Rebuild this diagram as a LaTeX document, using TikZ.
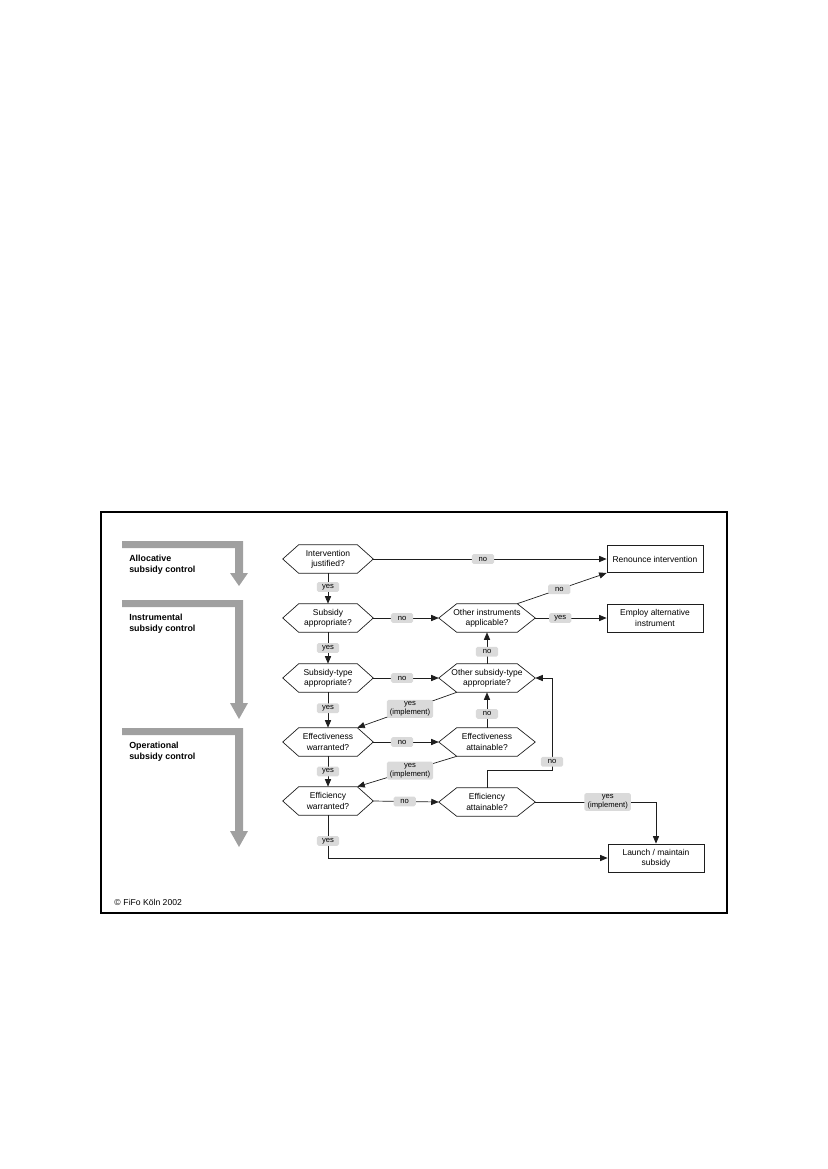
\documentclass[tikz,border=0pt]{standalone}
\usepackage{fontspec}
\setmainfont{Liberation Sans}
\usetikzlibrary{arrows.meta,calc}
\definecolor{labgray}{RGB}{218,218,218}
\definecolor{barcol}{RGB}{160,160,160}
\definecolor{linecol}{RGB}{30,30,30}
\newcommand\hexdraw[2]{%
  \draw[hexline] (#1.west) -- ($(#1.north west)+(#2,0)$) -- ($(#1.north east)+(-#2,0)$) -- (#1.east) -- ($(#1.south east)+(-#2,0)$) -- ($(#1.south west)+(#2,0)$) -- cycle;}
\begin{document}
\begin{tikzpicture}[x=0.72pt,y=-0.72pt,
  txt/.style={font=\fontsize{6.1}{7.4}\selectfont, align=center},
  hexl/.style={txt, rectangle, minimum width=64.8pt, minimum height=20.2pt, inner sep=0pt},
  hexr/.style={hexl, minimum width=69.1pt},
  hexline/.style={draw=linecol, line width=0.5pt},
  outbox/.style={txt, draw=linecol, line width=0.55pt, minimum width=69.1pt, minimum height=19.6pt, inner sep=0pt},
  lab/.style={fill=labgray, rounded corners=1.2pt, inner xsep=2.2pt, inner ysep=1.2pt, minimum width=16pt, minimum height=7pt, align=center, font=\fontsize{5.5}{6.4}\selectfont},
  ln/.style={draw=linecol, line width=0.5pt},
  arr/.style={ln, -{Triangle[length=5.4pt,width=4.4pt]}},
  gbar/.style={fill=barcol, draw=none},
  side/.style={font=\bfseries\fontsize{6.4}{7.8}\selectfont, align=left, anchor=west, inner sep=0pt}
]
\useasboundingbox (0,0) rectangle (827,1169);
% frame
\draw[line width=0.8pt] (101,512) rectangle (727,913);

% gray L arrows
\fill[gbar] (122,541) -- (243,541) -- (243,573) -- (248,573) -- (239,586) -- (230,573) -- (235,573) -- (235,548) -- (122,548) -- cycle;
\fill[gbar] (122,600) -- (243,600) -- (243,703) -- (248,703) -- (239,719) -- (230,703) -- (235,703) -- (235,607) -- (122,607) -- cycle;
\fill[gbar] (122,728) -- (243,728) -- (243,831) -- (248,831) -- (239,847) -- (230,831) -- (235,831) -- (235,735) -- (122,735) -- cycle;

\node[side] (allo) at (129,564.5) {Allocative\\subsidy control};
\node[side] (instr) at (129,624) {Instrumental\\subsidy control};
\node[side] (oper) at (129,752) {Operational\\subsidy control};

% left column
\node[hexl] (ij)  at (328,559) {Intervention\\justified?};
\node[hexl] (sa)  at (328,618) {Subsidy\\appropriate?};
\node[hexl] (sta) at (328,678) {Subsidy-type\\appropriate?};
\node[hexl] (ew)  at (328,742) {Effectiveness\\warranted?};
\node[hexl] (efw) at (328,801) {Efficiency\\warranted?};
% right column
\node[hexr] (oia)  at (487,618) {Other instruments\\applicable?};
\node[hexr] (osta) at (487,678) {Other subsidy-type\\appropriate?};
\node[hexr] (ea)   at (487,742) {Effectiveness\\attainable?};
\node[hexr] (efa)  at (487,802) {Efficiency\\attainable?};

\foreach \n in {ij,sa,sta,ew,efw}{\hexdraw{\n}{16}}
\foreach \n in {oia,osta,ea,efa}{\hexdraw{\n}{18}}

% result boxes
\node[outbox] (ri)  at (655,559) {Renounce intervention};
\node[outbox, minimum height=20.2pt] (eai) at (655,618) {Employ alternative\\instrument};
\node[outbox, minimum height=20.2pt] (lms) at (656,858) {Launch / maintain\\subsidy};

% corner coordinates
\coordinate (oiaNE) at ($(oia.north east)+(-18,0)$);
\coordinate (ostaSW) at ($(osta.south west)+(18,0)$);
\coordinate (eaSW) at ($(ea.south west)+(18,0)$);
\coordinate (ewNE) at ($(ew.north east)+(-16,0)$);
\coordinate (efwNE) at ($(efw.north east)+(-16,0)$);
\coordinate (loopc) at (552,770);

% connectors
\draw[arr] (ij.east) -- node[lab,pos=0.47]{no} (ri.west);
\draw[arr] (ij.south) -- node[lab,pos=0.45]{yes} (sa.north);
\draw[arr] (sa.east) -- node[lab,pos=0.44]{no} (oia.west);
\draw[arr] (oiaNE) -- node[lab,pos=0.47]{no} (ri.south west);
\draw[arr] (oia.east) -- node[lab,pos=0.35]{yes} (eai.west);
\draw[arr] (sa.south) -- node[lab]{yes} (sta.north);
\draw[arr] (sta.east) -- node[lab,pos=0.44]{no} (osta.west);
\draw[arr] (osta.north) -- node[lab,pos=0.38]{no} (oia.south);
\draw[arr] (sta.south) -- node[lab,pos=0.45]{yes} (ew.north);
\draw[arr] (ostaSW) -- node[lab,pos=0.47]{yes\\(implement)} (ewNE);
\draw[arr] (ew.east) -- node[lab,pos=0.44]{no} (ea.west);
\draw[arr] (ea.north) -- node[lab,pos=0.39]{no} (osta.south);
\draw[arr] (ew.south) -- node[lab]{yes} (efw.north);
\draw[arr] (eaSW) -- node[lab,pos=0.47]{yes\\(implement)} (efwNE);
\draw[arr] (efw.east) -- node[lab,pos=0.48]{no} (efa.west);
\draw[arr] (efa.north) |- (loopc) -- node[lab,pos=0.09]{no} (loopc |- osta.east) -- (osta.east);
\draw[arr] (efa.east) -- node[lab,pos=0.6]{yes\\(implement)} (lms.north |- efa.east) -- (lms.north);
\draw[arr] (efw.south) -- node[lab,pos=0.6]{yes} (efw.south |- lms.west) -- (lms.west);

% copyright
\node[anchor=west, inner sep=0pt, font=\fontsize{6.2}{7}\selectfont] (copy) at (114,902) {©\,\,FiFo Köln 2002};
\end{tikzpicture}
\end{document}
